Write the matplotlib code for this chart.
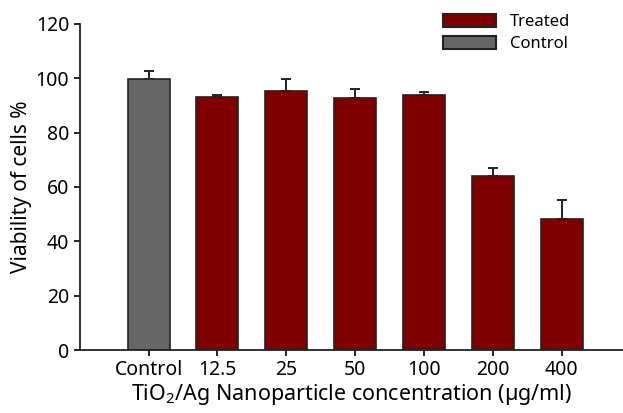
import matplotlib.pyplot as plt
from matplotlib.patches import Patch
import numpy as np

plt.rcParams['font.family'] = ['Noto Sans', 'DejaVu Sans']
plt.rcParams['mathtext.fontset'] = 'custom'
plt.rcParams['mathtext.rm'] = 'Noto Sans'

# 数据
labels = ['Control', '12.5', '25', '50', '100', '200', '400']
viability = [99.8, 93.2, 95.3, 92.6, 93.9, 64.0, 48.1]
errors = [2.7, 0.6, 4.4, 3.3, 1.0, 2.8, 6.9]
groups = ['Control', 'Treated', 'Treated', 'Treated', 'Treated', 'Treated', 'Treated']

colors = {'Treated': '#800000', 'Control': '#666666'}

fig = plt.figure(figsize=(6.23, 4.13), dpi=100)
ax = fig.add_axes([0.128, 0.1525, 0.872, 0.79])

x = np.arange(len(labels))
ax.bar(x, viability, width=0.61, color=[colors[g] for g in groups],
       edgecolor='#222222', linewidth=1.2, zorder=2)
ax.errorbar(x, viability, yerr=[np.zeros(len(errors)), errors], fmt='none',
            ecolor='#222222', elinewidth=1.4, capsize=3.5, capthick=1.4, zorder=1)

ax.set_xlim(-1.0, 6.89)
ax.set_ylim(0, 120)
ax.set_yticks(range(0, 121, 20))
ax.set_xticks(x)
ax.set_xticklabels(labels)
ax.tick_params(axis='both', labelsize=14, width=1.2, length=4, direction='out')

for s in ['top', 'right']:
    ax.spines[s].set_visible(False)
for s in ['left', 'bottom']:
    ax.spines[s].set_linewidth(1.3)
    ax.spines[s].set_color('#222222')

ax.set_ylabel('Viability of cells %', fontsize=15, labelpad=3)
ax.set_xlabel(r'TiO$_2$/Ag Nanoparticle concentration (µg/ml)', fontsize=15.5, labelpad=1)

handles = [Patch(facecolor=colors['Treated'], edgecolor='#222222', linewidth=1.5, label='Treated'),
           Patch(facecolor=colors['Control'], edgecolor='#222222', linewidth=1.5, label='Control')]
ax.legend(handles=handles, loc='upper right', bbox_to_anchor=(0.93, 1.075), frameon=False,
          fontsize=12, handlelength=3.2, handleheight=0.8, labelspacing=0.35, handletextpad=0.8)

plt.savefig('out.png', dpi=100)
